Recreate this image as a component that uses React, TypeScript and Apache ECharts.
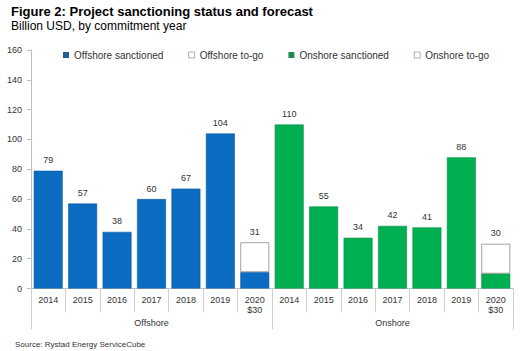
import React, { useEffect, useRef } from "react";
import * as echarts from "echarts";

const categories = [
  "2014", "2015", "2016", "2017", "2018", "2019", "2020\n$30",
  "2014", "2015", "2016", "2017", "2018", "2019", "2020\n$30",
];
const groups = ["Offshore", "Onshore"];
const offshoreSanctioned: (number | string)[] = [79, 57, 38, 60, 67, 104, 11, "-", "-", "-", "-", "-", "-", "-"];
const offshoreToGo: (number | string)[] = ["-", "-", "-", "-", "-", "-", 20, "-", "-", "-", "-", "-", "-", "-"];
const onshoreSanctioned: (number | string)[] = ["-", "-", "-", "-", "-", "-", "-", 110, 55, 34, 42, 41, 88, 10];
const onshoreToGo: (number | string)[] = ["-", "-", "-", "-", "-", "-", "-", "-", "-", "-", "-", "-", "-", 20];
const totals = [79, 57, 38, 60, 67, 104, 31, 110, 55, 34, 42, 41, 88, 30];
const yTicks = { min: 0, max: 160, interval: 20 };

const FONT = "'Liberation Sans', Arial, sans-serif";
const TXT = "#333333";
const BLUE = "#0B6CC1";
const GREEN = "#00B050";

export default function App() {
  const ref = useRef<HTMLDivElement>(null);
  useEffect(() => {
    const chart = echarts.init(ref.current!, null, { renderer: "svg" });
    const hasToGo = (i: number) =>
      typeof offshoreToGo[i] === "number" || typeof onshoreToGo[i] === "number";
    const label = (isToGo: boolean) => ({
      show: true,
      position: "top" as const,
      distance: 6,
      fontSize: 9,
      fontFamily: FONT,
      color: TXT,
      formatter: (p: any) => {
        const i = p.dataIndex;
        if (isToGo) return String(totals[i]);
        return hasToGo(i) ? "" : String(totals[i]);
      },
    });
    const barCommon = {
      type: "bar" as const,
      stack: "total",
      barCategoryGap: "16%",
    };
    chart.setOption({
      animation: false,
      textStyle: { fontFamily: FONT },
      title: [
        {
          text: "Figure 2: Project sanctioning status and forecast",
          subtext: "Billion USD, by commitment year",
          left: 6,
          top: 0,
          itemGap: 2,
          textStyle: { fontSize: 13, fontWeight: "bold", color: "#000", fontFamily: FONT },
          subtextStyle: { fontSize: 12, color: "#000", fontFamily: FONT },
        },
        {
          text: "Source: Rystad Energy ServiceCube",
          left: 10,
          top: 335,
          textStyle: { fontSize: 8, fontWeight: "normal", color: TXT, fontFamily: FONT },
        },
      ],
      legend: {
        left: 58,
        top: 45,
        itemWidth: 6,
        itemHeight: 6,
        itemGap: 25,
        icon: "rect",
        textStyle: { fontSize: 10, color: TXT, fontFamily: FONT },
        data: [
          { name: "Offshore sanctioned", itemStyle: { color: "#1f5f9a", borderWidth: 0 } },
          { name: "Offshore to-go", itemStyle: { color: "#fff", borderColor: "#8c8c8c", borderWidth: 0.7 } },
          { name: "Onshore sanctioned", itemStyle: { color: "#1e8a4f", borderWidth: 0 } },
          { name: "Onshore to-go", itemStyle: { color: "#fff", borderColor: "#8c8c8c", borderWidth: 0.7 } },
        ],
      },
      grid: { left: 31, right: 13, top: 50, bottom: 62.5 },
      xAxis: [
        {
          type: "category",
          data: categories,
          axisLine: { show: true, lineStyle: { color: "#bfbfbf", width: 1 } },
          axisTick: { show: true, interval: 0, length: 24, lineStyle: { color: "#d0d0d0" } },
          axisLabel: {
            interval: 0,
            margin: 6,
            fontSize: 9,
            lineHeight: 10,
            color: TXT,
            fontFamily: FONT,
          },
        },
        {
          type: "category",
          data: groups,
          position: "bottom",
          axisLine: { show: false },
          axisTick: { show: true, interval: 0, length: 41, lineStyle: { color: "#d0d0d0" } },
          axisLabel: { interval: 0, margin: 30, fontSize: 9, color: TXT, fontFamily: FONT },
        },
      ],
      yAxis: {
        type: "value",
        min: yTicks.min,
        max: yTicks.max,
        interval: yTicks.interval,
        splitLine: { show: false },
        axisLine: { show: true, lineStyle: { color: "#bfbfbf" } },
        axisTick: { show: true, length: 4, lineStyle: { color: "#bfbfbf" } },
        axisLabel: { fontSize: 9, color: TXT, margin: 9, fontFamily: FONT },
      },
      series: [
        {
          ...barCommon,
          name: "Offshore sanctioned",
          data: offshoreSanctioned,
          itemStyle: { color: BLUE, borderColor: "#0a5aa3", borderWidth: 0.6 },
          label: label(false),
        },
        {
          ...barCommon,
          name: "Offshore to-go",
          data: offshoreToGo,
          itemStyle: { color: "#ffffff", borderColor: "#8c8c8c", borderWidth: 0.8 },
          label: label(true),
        },
        {
          ...barCommon,
          name: "Onshore sanctioned",
          data: onshoreSanctioned,
          itemStyle: { color: GREEN, borderColor: "#0a8a45", borderWidth: 0.6 },
          label: label(false),
        },
        {
          ...barCommon,
          name: "Onshore to-go",
          data: onshoreToGo,
          itemStyle: { color: "#ffffff", borderColor: "#8c8c8c", borderWidth: 0.8 },
          label: label(true),
        },
      ],
    });
    return () => chart.dispose();
  }, []);
  return <div ref={ref} style={{ width: 526, height: 351, position: "absolute", left: 0, top: 0 }} />;
}
